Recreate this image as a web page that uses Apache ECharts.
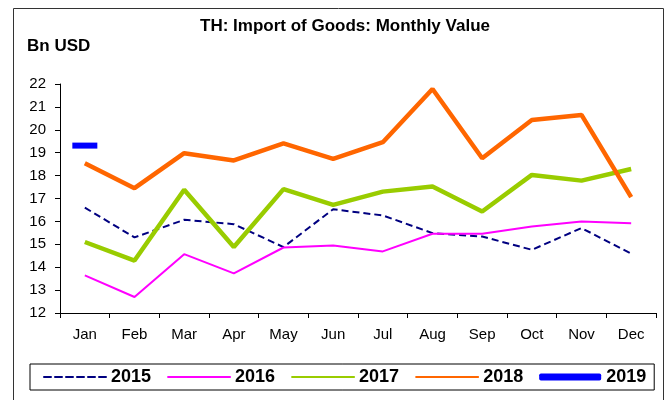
<!DOCTYPE html>
<html>
<head>
<meta charset="utf-8">
<script src="https://cdn.jsdelivr.net/npm/echarts@6/dist/echarts.min.js"></script>
<style>
html,body{margin:0;padding:0;background:#fff;}
#chart{width:669px;height:400px;}
</style>
</head>
<body>
<div id="chart"></div>
<script>
var months = ['Jan','Feb','Mar','Apr','May','Jun','Jul','Aug','Sep','Oct','Nov','Dec'];
var y2015 = [16.6, 15.3, 16.07, 15.88, 14.88, 16.53, 16.26, 15.49, 15.34, 14.76, 15.71, 14.59];
var y2016 = [13.64, 12.7, 14.57, 13.73, 14.86, 14.95, 14.69, 15.46, 15.46, 15.78, 16.0, 15.92];
var y2017 = [15.1, 14.29, 17.38, 14.88, 17.41, 16.72, 17.3, 17.52, 16.43, 18.03, 17.78, 18.29];
var y2018 = [18.54, 17.45, 18.98, 18.66, 19.41, 18.73, 19.46, 21.78, 18.76, 20.43, 20.65, 17.06];
var y2019 = [19.31];
var yMin = 12, yMax = 22, yStep = 1;

var FONT = "'Liberation Sans', Arial, sans-serif";
var chart = echarts.init(document.getElementById('chart'));
chart.setOption({
  animation: false,
  backgroundColor: '#fff',
  title: {
    text: 'TH: Import of Goods: Monthly Value',
    left: 340, top: 13, textAlign: 'center',
    textStyle: {fontFamily: FONT, fontWeight: 'bold', fontSize: 17, color: '#000'}
  },
  graphic: [
    {type: 'rect', shape: {x: 13.5, y: 8.5, width: 650, height: 400},
     style: {fill: 'none', stroke: '#333', lineWidth: 1}, silent: true, z: -1},
    {type: 'text', left: 27, top: 38,
     style: {text: 'Bn USD', font: 'bold 17px ' + FONT, fill: '#000'}}
  ],
  grid: {left: 60, right: 13, top: 84, bottom: 87},
  legend: {
    left: 30, top: 364,
    padding: [4, 8, 4, 13],
    borderColor: '#000', borderWidth: 1,
    itemGap: 16, itemWidth: 62, itemHeight: 7,
    itemStyle: {opacity: 0},
    lineStyle: {cap: 'round'},
    textStyle: {fontFamily: FONT, fontWeight: 'bold', fontSize: 18, color: '#000'},
    data: [
      {name: '2015'}, {name: '2016'}, {name: '2017'}, {name: '2018'},
      {name: '2019', icon: 'roundRect', itemStyle: {color: '#0000FF', opacity: 1}}
    ]
  },
  xAxis: {
    type: 'category', data: months, boundaryGap: true,
    axisLine: {lineStyle: {color: '#000', width: 1}},
    axisTick: {show: true, length: 5, lineStyle: {color: '#000'}},
    axisLabel: {fontFamily: FONT, fontSize: 15, color: '#000', margin: 14}
  },
  yAxis: {
    type: 'value', min: yMin, max: yMax, interval: yStep,
    axisLine: {show: true, lineStyle: {color: '#000', width: 1}},
    axisTick: {show: true, length: 5, lineStyle: {color: '#000'}},
    splitLine: {show: false},
    axisLabel: {fontFamily: FONT, fontSize: 15, color: '#000', margin: 14}
  },
  series: [
    {name: '2015', type: 'line', data: y2015, symbol: 'none',
     lineStyle: {color: '#000080', width: 2, type: [7, 4]}, itemStyle: {color: '#000080'}},
    {name: '2016', type: 'line', data: y2016, symbol: 'none',
     lineStyle: {color: '#FF00FF', width: 2}, itemStyle: {color: '#FF00FF'}},
    {name: '2017', type: 'line', data: y2017, symbol: 'none',
     lineStyle: {color: '#99CC00', width: 4.5}, itemStyle: {color: '#99CC00'}},
    {name: '2018', type: 'line', data: y2018, symbol: 'none',
     lineStyle: {color: '#FF6600', width: 4.5}, itemStyle: {color: '#FF6600'}},
    {name: '2019', type: 'line', data: y2019, symbol: 'rect', symbolSize: [25, 6],
     showSymbol: true, showAllSymbol: true,
     lineStyle: {color: '#0000FF', width: 6}, itemStyle: {color: '#0000FF'}}
  ]
});
</script>
</body>
</html>
